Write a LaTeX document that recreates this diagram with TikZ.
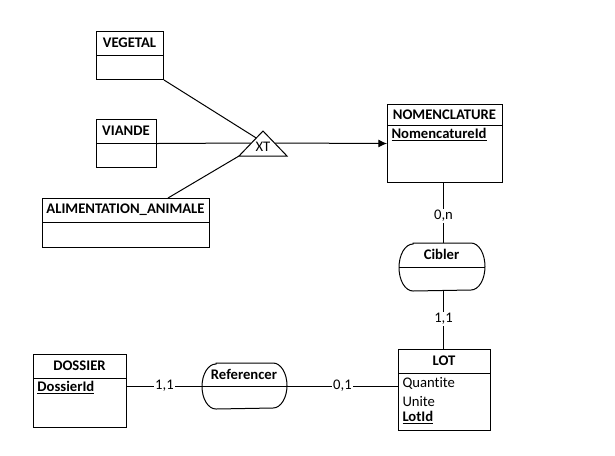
\documentclass[tikz,border=0pt]{standalone}
\usepackage{fontspec}
\setmainfont[Ligatures=NoCommon]{Carlito}
\usetikzlibrary{calc,arrows.meta}
\begin{document}
\begin{tikzpicture}[x=0.75pt,y=-0.75pt,
  font=\fontsize{11}{13}\selectfont, line width=0.75pt,
  ent/.style={draw, rectangle, inner sep=0pt, anchor=north west},
  rel/.style={rectangle, inner sep=0pt, anchor=north west},
  ttl/.style={inner sep=0pt, font=\fontsize{11}{13}\selectfont\bfseries},
  attr/.style={inner sep=0pt, anchor=west},
  lbl/.style={fill=white, inner sep=1pt},
  conn/.style={draw, line width=0.75pt}]
\fill[white] (0,0) rectangle (615,455);
\useasboundingbox (0,0) rectangle (615,455);

% entities
\node[ent, minimum width=50.25pt, minimum height=36pt] (veg) at (96,31) {};
\draw ([yshift=-18pt]veg.north west) -- ([yshift=-18pt]veg.north east);
\node[ttl] (vegT) at (129.5,43) {VEGETAL};

\node[ent, minimum width=45pt, minimum height=36pt] (via) at (96,119) {};
\draw ([yshift=-18pt]via.north west) -- ([yshift=-18pt]via.north east);
\node[ttl] (viaT) at (126,131) {VIANDE};

\node[ent, minimum width=125.25pt, minimum height=36.75pt] (ali) at (42,198) {};
\draw ([yshift=-18pt]ali.north west) -- ([yshift=-18pt]ali.north east);
\node[ttl] (aliT) at (125.5,210) {ALIMENTATION\_ANIMALE};

\node[ent, minimum width=86.25pt, minimum height=58.5pt] (nom) at (387,104) {};
\draw ([yshift=-15.75pt]nom.north west) -- ([yshift=-15.75pt]nom.north east);
\node[ttl] (nomT) at (444.5,114.5) {NOMENCLATURE};
\node[attr, font=\fontsize{11}{13}\selectfont\bfseries] (nomA) at (391,135) {\underline{NomencatureId}};

\node[ent, minimum width=69pt, minimum height=60.75pt] (lot) at (398,349) {};
\draw ([yshift=-18pt]lot.north west) -- ([yshift=-18pt]lot.north east);
\node[ttl] (lotT) at (444,361) {LOT};
\node[attr] (lotA) at (402,383) {Quantite};
\node[attr] (lotB) at (402,401) {Unite};
\node[attr, font=\fontsize{11}{13}\selectfont\bfseries] (lotC) at (402,418) {\underline{LotId}};

\node[ent, minimum width=69.75pt, minimum height=54.75pt] (dos) at (33,354) {};
\draw ([yshift=-18pt]dos.north west) -- ([yshift=-18pt]dos.north east);
\node[ttl] (dosT) at (79.5,366) {DOSSIER};
\node[attr, font=\fontsize{11}{13}\selectfont\bfseries] (dosA) at (37,388) {\underline{DossierId}};

% relations
\node[rel, minimum width=63.75pt, minimum height=35.25pt] (cib) at (399,243) {};
\draw ([xshift=10.5pt]cib.north west) -- ([xshift=-10.5pt]cib.north east)
  arc[start angle=90, end angle=-90, x radius=10.5pt, y radius=17.625pt]
  -- ([xshift=10.5pt]cib.south west)
  arc[start angle=270, end angle=90, x radius=10.5pt, y radius=17.625pt] -- cycle;
\draw (cib.west) -- (cib.east);
\node[ttl] (cibT) at (441.5,254) {Cibler};

\node[rel, minimum width=63pt, minimum height=33.75pt] (ref) at (202,363) {};
\draw ([xshift=10.5pt]ref.north west) -- ([xshift=-10.5pt]ref.north east)
  arc[start angle=90, end angle=-90, x radius=10.5pt, y radius=16.875pt]
  -- ([xshift=10.5pt]ref.south west)
  arc[start angle=270, end angle=90, x radius=10.5pt, y radius=16.875pt] -- cycle;
\draw (ref.west) -- (ref.east);
\node[ttl] (refT) at (244,374.5) {Referencer};

% XT triangle
\coordinate (ap) at (263,131);
\coordinate (bl) at (239,156);
\coordinate (br) at (287,156);
\draw (ap) -- (bl) -- (br) -- cycle;
\node[inner sep=0pt] (xt) at (263,146.5) {XT};
\coordinate (inV) at ($(ap)!0.28!(bl)$);
\coordinate (inL) at ($(ap)!0.48!(bl)$);
\coordinate (inR) at ($(ap)!0.48!(br)$);

% connectors
\draw[conn] (veg.south east) -- (inV);
\draw[conn] (via.east) -- (inL);
\draw[conn, -{Latex[length=6.5pt,width=6pt]}] (inR) -- (nom.west);
\draw[conn] (ali.north -| 168,0) -- (bl);

\coordinate (vx) at ([xshift=-1.1pt]nom.south);
\draw[conn] (vx) -- node[lbl, pos=0.55] {0,n} (cib.north -| vx);
\draw[conn] (cib.south -| vx) -- node[lbl, pos=0.48] {1,1} (lot.north -| vx);
\draw[conn] (ref.west -| dos.east) -- node[lbl] {1,1} (ref.west);
\draw[conn] (ref.east) -- node[lbl] {0,1} (ref.east -| lot.west);
\end{tikzpicture}
\end{document}
